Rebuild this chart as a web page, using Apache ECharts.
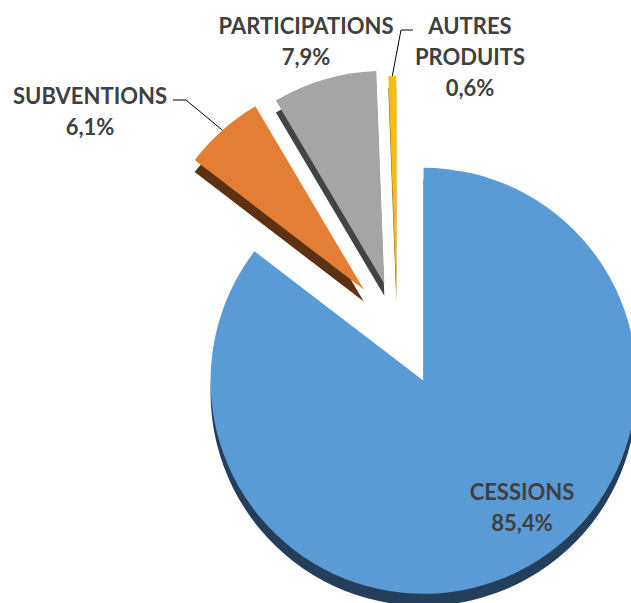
<!DOCTYPE html>
<html>
<head>
<meta charset="utf-8">
<script src="https://cdn.jsdelivr.net/npm/echarts@6/dist/echarts.min.js"></script>
<style>
html, body { margin: 0; padding: 0; background: #fff; }
#chart { width: 631px; height: 603px; }
</style>
</head>
<body>
<div id="chart"></div>
<script>
// données
var categories = ['CESSIONS', 'SUBVENTIONS', 'PARTICIPATIONS', 'AUTRES PRODUITS'];
var values = [85.4, 6.1, 7.9, 0.6];

// styles
var topColors = ['#5b9bd5', '#e47e35', '#a5a5a5', '#f7bc12'];
var sideColors = ['#243f5b', '#5e3113', '#434343', '#7f6000'];
var explode = [60, 50, 45, 38];
var labelPos = [[522, 507], [90, 111], [306, 41], [470, 56]];
var labelBend = [null, [[186, 100], [173, 100]], null, [[401, 30], [413, 30]]];

var pieCenter = [397, 327];
var pieRadius = 213;
var depth = 12;

var total = values.reduce(function (a, b) { return a + b; }, 0);
var acc = 0;
var mids = values.map(function (v) {
    var m = (acc + v / 2) / total * 2 * Math.PI;
    acc += v;
    return m;
});

function sliceCenter(i) {
    return [
        pieCenter[0] + explode[i] * Math.sin(mids[i]),
        pieCenter[1] - explode[i] * Math.cos(mids[i])
    ];
}

function fmtPct(v) {
    return v.toFixed(1).replace('.', ',') + '%';
}

function sliceSeries(i, side) {
    var c = sliceCenter(i);
    return {
        type: 'pie',
        center: [c[0], c[1] + (side ? depth : 0)],
        radius: pieRadius,
        startAngle: 90,
        clockwise: true,
        silent: true,
        z: side ? 1 : 2,
        animation: false,
        avoidLabelOverlap: false,
        emphasis: { disabled: true },
        label: { show: false },
        labelLine: { show: false },
        data: categories.map(function (name, j) {
            var item = {
                name: name,
                value: values[j],
                itemStyle: {
                    color: j === i ? (side ? sideColors[i] : topColors[i]) : 'rgba(0,0,0,0)',
                    borderWidth: 0
                }
            };
            if (!side && j === i) {
                item.label = {
                    show: true,
                    position: 'outside',
                    color: '#404040',
                    fontFamily: 'Lato',
                    fontWeight: 'bold',
                    fontSize: 22,
                    lineHeight: 31,
                    align: 'center',
                    formatter: function (p) {
                        return p.name.replace(' ', '\n') + '\n' + fmtPct(p.value);
                    }
                };
                item.labelLine = {
                    show: !!labelBend[i],
                    lineStyle: { color: '#000', width: 1 }
                };
            }
            return item;
        }),
        labelLayout: side ? null : function (params) {
            if (params.dataIndex !== i) return {};
            var out = {
                x: labelPos[i][0],
                y: labelPos[i][1],
                align: 'center',
                verticalAlign: 'middle'
            };
            if (labelBend[i]) {
                // point d'ancrage sur l'arc extérieur de la part
                var anchor = [
                    c[0] + pieRadius * Math.sin(mids[i]),
                    c[1] - pieRadius * Math.cos(mids[i])
                ];
                out.labelLinePoints = [anchor, labelBend[i][0], labelBend[i][1]];
            }
            return out;
        }
    };
}

var series = [];
categories.forEach(function (n, i) { series.push(sliceSeries(i, true)); });
categories.forEach(function (n, i) { series.push(sliceSeries(i, false)); });

var chart = echarts.init(document.getElementById('chart'), null, { renderer: 'svg' });
chart.setOption({
    backgroundColor: '#fff',
    animation: false,
    series: series
});
</script>
</body>
</html>
